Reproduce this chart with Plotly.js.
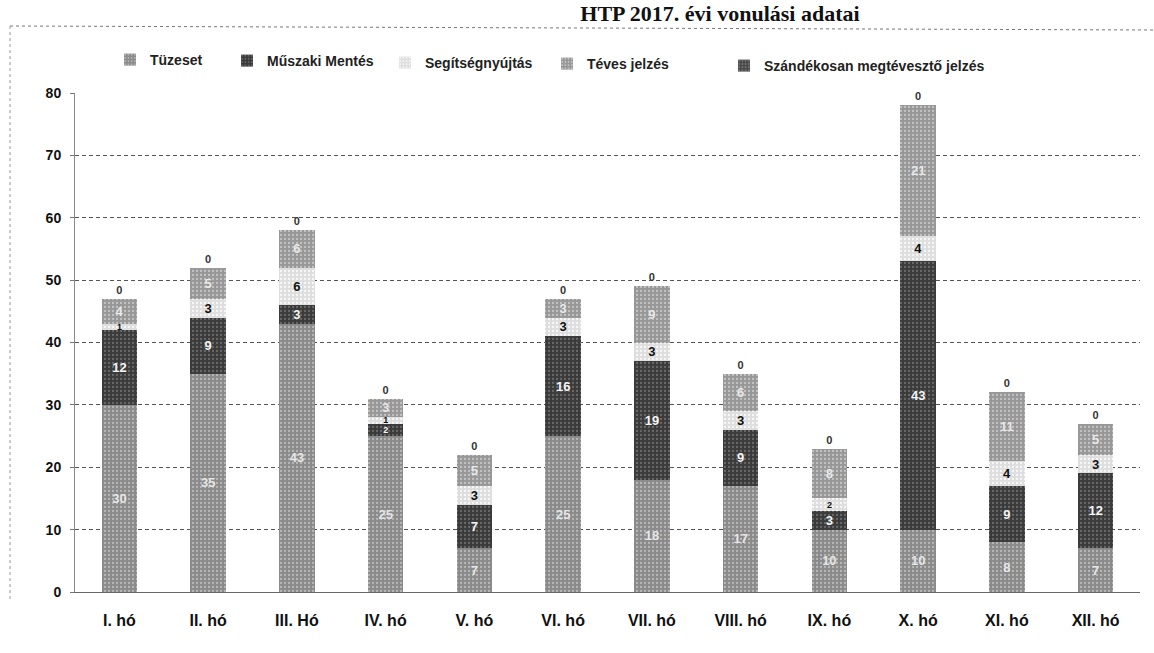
<!DOCTYPE html>
<html>
<head>
<meta charset="utf-8">
<script src="https://cdn.plot.ly/plotly-3.0.1.min.js"></script>
<style>html,body{margin:0;padding:0;background:#fff}#chart{width:1154px;height:653px}</style>
</head>
<body>
<div id="chart"></div>
<script>
// Data
const months = ["I. hó","II. hó","III. Hó","IV. hó","V. hó","VI. hó","VII. hó","VIII. hó","IX. hó","X. hó","XI. hó","XII. hó"];
const tuzeset    = [30, 35, 43, 25, 7, 25, 18, 17, 10, 10, 8, 7];
const muszaki    = [12, 9, 3, 2, 7, 16, 19, 9, 3, 43, 9, 12];
const segitseg   = [1, 3, 6, 1, 3, 3, 3, 3, 2, 4, 4, 3];
const teves      = [4, 5, 6, 3, 5, 3, 9, 6, 8, 21, 11, 5];
const szandekos  = [0, 0, 0, 0, 0, 0, 0, 0, 0, 0, 0, 0];
const seriesNames = ["Tüzeset","Műszaki Mentés","Segítségnyújtás","Téves jelzés","Szándékosan megtévesztő jelzés"];

const FONT = '"Liberation Sans", Arial, sans-serif';
const W = 1154, H = 653;

function bar(name, vals, color, fg, textColor, legendId, extra) {
  return Object.assign({
    type: 'bar', name: name, x: months, y: vals,
    text: vals.map(String), textposition: 'inside', insidetextanchor: 'middle', textangle: 0,
    constraintext: 'none', cliponaxis: false,
    textfont: {family: FONT, size: vals.map(v => v <= 2 ? 9 : 13), color: textColor, weight: 'bold'},
    marker: {color: color, line: {width: 0},
      pattern: {shape: '.', fgcolor: fg, bgcolor: color, size: 4, solidity: 0.25, fillmode: 'replace'}},
    legend: legendId, hoverinfo: 'skip'
  }, extra || {});
}

const traces = [
  bar(seriesNames[0], tuzeset,  '#8a8a8a', '#b8b8b8', '#e6e6e6', 'legend'),
  bar(seriesNames[1], muszaki,  '#3a3a3a', '#6a6a6a', '#f4f4f4', 'legend2'),
  bar(seriesNames[2], segitseg, '#dedede', '#f8f8f8', '#111111', 'legend3'),
  bar(seriesNames[3], teves,    '#979797', '#c4c4c4', '#e8e8e8', 'legend4'),
  bar(seriesNames[4], szandekos,'#4a4a4a', '#777777', '#333333', 'legend5',
      {textposition: 'outside', textfont: {family: FONT, size: 11, color: '#333', weight: 'bold'}})
];

function lg(px, py) {
  return {x: px / W, y: 1 - py / H, xref: 'container', yref: 'container',
    xanchor: 'left', yanchor: 'middle', orientation: 'h', bgcolor: 'rgba(0,0,0,0)',
    font: {family: FONT, size: 14, color: '#222', weight: 'bold'}, itemwidth: 30};
}

const plotL = 75, plotR = 1140, plotT = 93, plotB = 592;
const pw = plotR - plotL, ph = plotB - plotT;
const px = v => (v - plotL) / pw;
const py = v => (plotB - v) / ph;

const layout = {
  width: W, height: H,
  margin: {l: plotL, r: W - plotR, t: plotT, b: H - plotB, pad: 0},
  paper_bgcolor: '#ffffff', plot_bgcolor: '#ffffff',
  barmode: 'stack', bargap: 0.6,
  showlegend: true,
  title: {text: 'HTP 2017. évi vonulási adatai', x: 720 / W, xanchor: 'center', xref: 'container',
    y: 1 - 13 / H, yanchor: 'middle', yref: 'container',
    font: {family: '"Liberation Serif", serif', size: 22, color: '#111', weight: 'bold'}},
  legend: lg(110, 60), legend2: lg(227, 61), legend3: lg(385, 63), legend4: lg(547, 64), legend5: lg(724, 66),
  xaxis: {type: 'category', showgrid: false, showline: true, linecolor: '#666', linewidth: 1,
    ticks: '', tickfont: {family: FONT, size: 16, color: '#111', weight: 'bold'}, ticklabelstandoff: 14},
  yaxis: {range: [0, 80], dtick: 10, showgrid: true, gridcolor: '#555', gridwidth: 1, griddash: '4px,3px',
    zeroline: false, showline: true, linecolor: '#888', ticks: 'outside', ticklen: 4, tickcolor: '#777',
    tickfont: {family: FONT, size: 14, color: '#111', weight: 'bold'}, ticklabelstandoff: 6},
  shapes: [
    {type: 'line', xref: 'paper', yref: 'paper', x0: px(10), x1: px(1154), y0: py(26), y1: py(30),
     line: {color: '#777', width: 1, dash: 'dot'}},
    {type: 'line', xref: 'paper', yref: 'paper', x0: px(10), x1: px(10), y0: py(26), y1: py(600),
     line: {color: '#999', width: 1, dash: 'dot'}}
  ]
};

Plotly.newPlot('chart', traces, layout, {staticPlot: true, displayModeBar: false});
</script>
</body>
</html>
